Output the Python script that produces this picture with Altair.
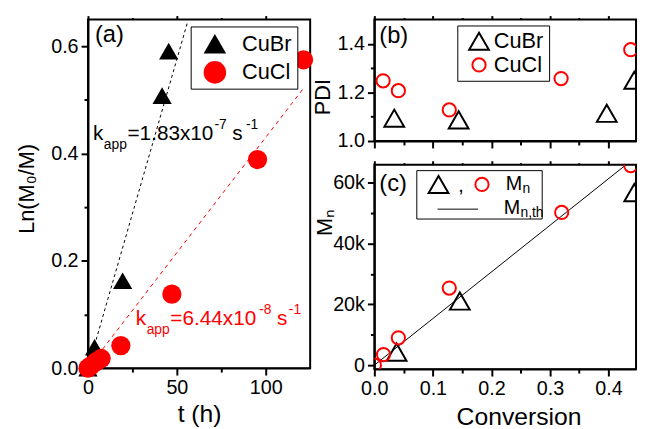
import altair as alt
import pandas as pd

FONT = "Liberation Sans"
RED = "#ff0000"

# ---------------- data ----------------
# (a) kinetics: Ln(M0/M) vs t (h)
t_cubr = [0, 3.7, 19.5, 41.7, 45.4]
ln_cubr = [0.0, 0.039, 0.163, 0.508, 0.591]
t_cucl = [0, 1.5, 4.6, 7.4, 18.5, 47.2, 95.4, 121.3]
ln_cucl = [0.0, 0.004, 0.012, 0.018, 0.042, 0.138, 0.389, 0.575]
fit_t_cubr = [0, 56]
fit_ln_cubr = [0.0, 0.645]
fit_t_cucl = [0, 122]
fit_ln_cucl = [0.0, 0.525]

# (b) PDI vs conversion
conv_pdi_cubr = [0.034, 0.144, 0.397, 0.444]
pdi_cubr = [1.094, 1.087, 1.114, 1.25]
conv_pdi_cucl = [0.015, 0.041, 0.128, 0.319, 0.438]
pdi_cucl = [1.248, 1.207, 1.128, 1.257, 1.376]

# (c) Mn vs conversion
conv_mn_cubr = [0.038, 0.146, 0.444]
mn_cubr = [4300, 21100, 56800]
conv_mn_cucl = [0.0, 0.0157, 0.041, 0.128, 0.32, 0.438]
mn_cucl = [0, 3500, 9000, 25400, 50300, 65700]
conv_th = [0.0, 0.43]
mn_th = [0, 66000]

series = ["CuBr", "CuCl"]

# ---------------- helpers ----------------
one = pd.DataFrame({"d": [0]})


def minor(vals, short=4, long=7):
    return {"condition": {"test": f"indexof({vals}, datum.value) >= 0", "value": short}, "value": long}


def hide(vals):
    return f"indexof({vals}, datum.value) >= 0 ? '' : datum.label"


def label(txt, x, y, size=24):
    return alt.Chart(one).mark_text(text=txt, align="left", baseline="middle", font=FONT,
                                    fontSize=size, color="black").encode(x=alt.value(x), y=alt.value(y))


def top_ticks(df, field, scale_x, y_enc, values, minor_vals):
    return alt.Chart(df).mark_point(opacity=0).encode(
        x=alt.X(field, scale=scale_x,
                axis=alt.Axis(orient="top", values=values, labels=False, title=None, domain=False,
                              tickSize=minor(minor_vals, 2, 4))),
        y=y_enc,
    )


# ---------------- panel (a) ----------------
df_a = pd.DataFrame({
    "series": ["CuBr"] * len(t_cubr) + ["CuCl"] * len(t_cucl),
    "t": t_cubr + t_cucl,
    "y": ln_cubr + ln_cucl,
})
sx_a = alt.Scale(domain=[0, 125], nice=False, zero=False)
sy_a = alt.Scale(domain=[0, 0.65], nice=False, zero=False)
xa = alt.X("t:Q", scale=sx_a,
           axis=alt.Axis(values=[0, 25, 50, 75, 100], labelExpr=hide([25, 75]), tickSize=minor([25, 75]),
                         title="t (h)", titleX=112.5, titleY=46, titleBaseline="middle", titleAlign="center",
                         titleFontSize=25))
ya = alt.Y("y:Q", scale=sy_a,
           axis=alt.Axis(values=[0, 0.1, 0.2, 0.3, 0.4, 0.5, 0.6], format=".1f", labelExpr=hide([0.1, 0.3, 0.5]),
                         tickSize=minor([0.1, 0.3, 0.5]), title="Ln(M₀/M)", titleX=-62, titleY=171,
                         titleBaseline="middle", titleAlign="center", titleAngle=270, titleFontSize=22))

fit_b = alt.Chart(pd.DataFrame({"t": fit_t_cubr, "y": fit_ln_cubr})).mark_line(
    color="black", strokeWidth=1, strokeDash=[3, 3]).encode(x=xa, y=ya)
fit_r = alt.Chart(pd.DataFrame({"t": fit_t_cucl, "y": fit_ln_cucl})).mark_line(
    color=RED, strokeWidth=1, strokeDash=[4, 4]).encode(x=xa, y=ya)

leg_a = alt.Legend(title=None, orient="none", legendX=104, legendY=7, strokeColor="black", fillColor="white",
                   padding=5, symbolOffset=7, labelOffset=15, rowPadding=5, symbolSize=520,
                   labelFont=FONT, labelFontSize=22, labelColor="black")
pts_a = alt.Chart(df_a).mark_point(filled=True, size=380, opacity=1).encode(
    x=xa, y=ya,
    color=alt.Color("series:N", scale=alt.Scale(domain=series, range=["black", RED]), legend=leg_a),
    shape=alt.Shape("series:N", scale=alt.Scale(domain=series, range=["triangle-up", "circle"]), legend=leg_a),
)


def annotation(t, y, color, parts):
    layers = []
    for txt, dx, dy, fs in parts:
        layers.append(alt.Chart(pd.DataFrame({"t": [t], "y": [y], "txt": [txt]})).mark_text(
            align="left", baseline="middle", dx=dx, dy=dy, font=FONT, fontSize=fs, color=color
        ).encode(x=xa, y=ya, text="txt:N"))
    return layers


ann_b = annotation(2.8, 0.436, "black",
                   [("k", 0, 0, 21), ("app", 11, 11, 14), ("=1.83x10", 35, 0, 21), ("-7", 123, -9, 14),
                    ("s", 141, 0, 21), ("-1", 155, -9, 14)])
ann_r = annotation(26.9, 0.0917, RED,
                   [("k", 0, 0, 21), ("app", 11, 11, 14), ("=6.44x10", 35, 0, 21), ("-8", 125, -9, 14),
                    ("s", 143, 0, 21), ("-1", 155, -9, 14)])

inner_a = alt.layer(fit_b, fit_r, pts_a, *ann_b, *ann_r, label("(a)", 7, 16))
panel_a = alt.layer(
    inner_a,
    top_ticks(df_a, "t:Q", sx_a, ya, [0, 25, 50, 75, 100], [25, 75]),
).resolve_axis(x="independent").properties(width=225, height=353)

# ---------------- panel (b) ----------------
df_b = pd.DataFrame({
    "series": ["CuBr"] * len(conv_pdi_cubr) + ["CuCl"] * len(conv_pdi_cucl),
    "c": conv_pdi_cubr + conv_pdi_cucl,
    "p": pdi_cubr + pdi_cucl,
})
conv_ticks = [0, 0.05, 0.1, 0.15, 0.2, 0.25, 0.3, 0.35, 0.4]
conv_minor = [0.05, 0.15, 0.25, 0.35]
sx_bc = alt.Scale(domain=[0, 0.447], nice=False, zero=False)
sy_b = alt.Scale(domain=[1.0, 1.5], nice=False, zero=False)
xb = alt.X("c:Q", scale=sx_bc,
           axis=alt.Axis(values=conv_ticks, labels=False, tickSize=minor(conv_minor), title=None))
yb = alt.Y("p:Q", scale=sy_b,
           axis=alt.Axis(values=[1.0, 1.1, 1.2, 1.3, 1.4], format=".1f", labelExpr=hide([1.1, 1.3]),
                         tickSize=minor([1.1, 1.3]), title="PDI", titleX=-52, titleY=78,
                         titleBaseline="middle", titleAlign="center", titleAngle=270, titleFontSize=22))
leg_b = alt.Legend(title=None, orient="none", legendX=84, legendY=6, strokeColor="black", fillColor="white",
                   padding=5, symbolOffset=6, labelOffset=4, rowPadding=0, symbolStrokeWidth=2,
                   labelFont=FONT, labelFontSize=22, labelColor="black")
pts_b = alt.Chart(df_b).mark_point(filled=False, strokeWidth=2, opacity=1, clip=True).encode(
    x=xb, y=yb,
    color=alt.Color("series:N", scale=alt.Scale(domain=series, range=["black", RED]), legend=leg_b),
    shape=alt.Shape("series:N", scale=alt.Scale(domain=series, range=["triangle-up", "circle"]), legend=leg_b),
    size=alt.Size("series:N", scale=alt.Scale(domain=series, range=[400, 180]), legend=leg_b),
)
inner_b = alt.layer(pts_b, label("(b)", 5, 17))
panel_b = alt.layer(
    inner_b,
    top_ticks(df_b, "c:Q", sx_bc, yb, conv_ticks, conv_minor),
).resolve_axis(x="independent").properties(width=265, height=123)

# ---------------- panel (c) ----------------
df_c = pd.DataFrame({
    "series": ["CuBr"] * len(conv_mn_cubr) + ["CuCl"] * len(conv_mn_cucl),
    "c": conv_mn_cubr + conv_mn_cucl,
    "m": mn_cubr + mn_cucl,
})
sy_c = alt.Scale(domain=[-1300, 66000], nice=False, zero=False)
xc = alt.X("c:Q", scale=sx_bc,
           axis=alt.Axis(values=conv_ticks, format=".1f", labelExpr=hide(conv_minor), tickSize=minor(conv_minor),
                         title="Conversion", titleX=146, titleY=48, titleBaseline="middle", titleAlign="center",
                         titleFontSize=25))
yc = alt.Y("m:Q", scale=sy_c,
           axis=alt.Axis(values=[0, 10000, 20000, 30000, 40000, 50000, 60000],
                         labelExpr="indexof([10000, 30000, 50000], datum.value) >= 0 ? '' : "
                                   "(datum.value == 0 ? '0' : (datum.value / 1000) + 'k')",
                         tickSize=minor([10000, 30000, 50000]), title="Mₙ", titleX=-50, titleY=58,
                         titleBaseline="middle", titleAlign="center", titleAngle=270, titleFontSize=22))
th_line = alt.Chart(pd.DataFrame({"c": conv_th, "m": mn_th})).mark_line(
    color="black", strokeWidth=1, clip=True).encode(x=xc, y=yc)
pts_c = alt.Chart(df_c).mark_point(filled=False, strokeWidth=2, opacity=1, clip=True).encode(
    x=xc, y=yc,
    color=alt.Color("series:N", scale=alt.Scale(domain=series, range=["black", RED]), legend=None),
    shape=alt.Shape("series:N", scale=alt.Scale(domain=series, range=["triangle-up", "circle"]), legend=None),
    size=alt.Size("series:N", scale=alt.Scale(domain=series, range=[400, 180]), legend=None),
)

# manual legend for (c)
leg_box = alt.Chart(one).mark_rect(fill="white", stroke="black", strokeWidth=1).encode(
    x=alt.value(43), x2=alt.value(170), y=alt.value(6), y2=alt.value(55))
leg_tri = alt.Chart(one).mark_point(shape="triangle-up", size=400, color="black", strokeWidth=2,
                                    filled=False, opacity=1).encode(x=alt.value(65), y=alt.value(20))
leg_circ = alt.Chart(one).mark_point(shape="circle", size=180, color=RED, strokeWidth=2,
                                     filled=False, opacity=1).encode(x=alt.value(109), y=alt.value(20))
leg_line = alt.Chart(one).mark_rule(color="black", strokeWidth=1).encode(
    x=alt.value(64), x2=alt.value(105), y=alt.value(45))


def small(txt, x, y, size):
    return alt.Chart(one).mark_text(text=txt, align="left", baseline="middle", font=FONT,
                                    fontSize=size, color="black").encode(x=alt.value(x), y=alt.value(y))


inner_c = alt.layer(
    th_line, pts_c, leg_box, leg_tri, leg_circ, leg_line,
    small(",", 85, 22, 20), small("M", 133, 20, 20), small("n", 150, 25, 14),
    small("M", 131, 44, 20), small("n,th", 148, 49, 14),
    label("(c)", 5, 20),
)
panel_c = alt.layer(
    inner_c,
    top_ticks(df_c, "c:Q", sx_bc, yc, conv_ticks, conv_minor),
).resolve_axis(x="independent").properties(width=265, height=207)

right = alt.vconcat(panel_b, panel_c, spacing=24, bounds="flush")
chart = alt.hconcat(panel_a, right, spacing=65, bounds="flush").properties(
    padding={"left": 7, "top": 3, "right": 0, "bottom": 0}
).resolve_scale(color="independent", shape="independent", size="independent").configure_view(
    stroke="black", strokeWidth=2
).configure_axis(
    labelFont=FONT, labelFontSize=20, labelColor="black", titleFont=FONT, titleFontSize=24,
    titleFontWeight="normal", titleColor="black", domainColor="black", domainWidth=2,
    tickColor="black", tickWidth=2, labelPadding=3, grid=False, labelFlush=False, labelOverlap=False
)

chart.save("out.html", embed_options={"renderer": "svg", "actions": False})
